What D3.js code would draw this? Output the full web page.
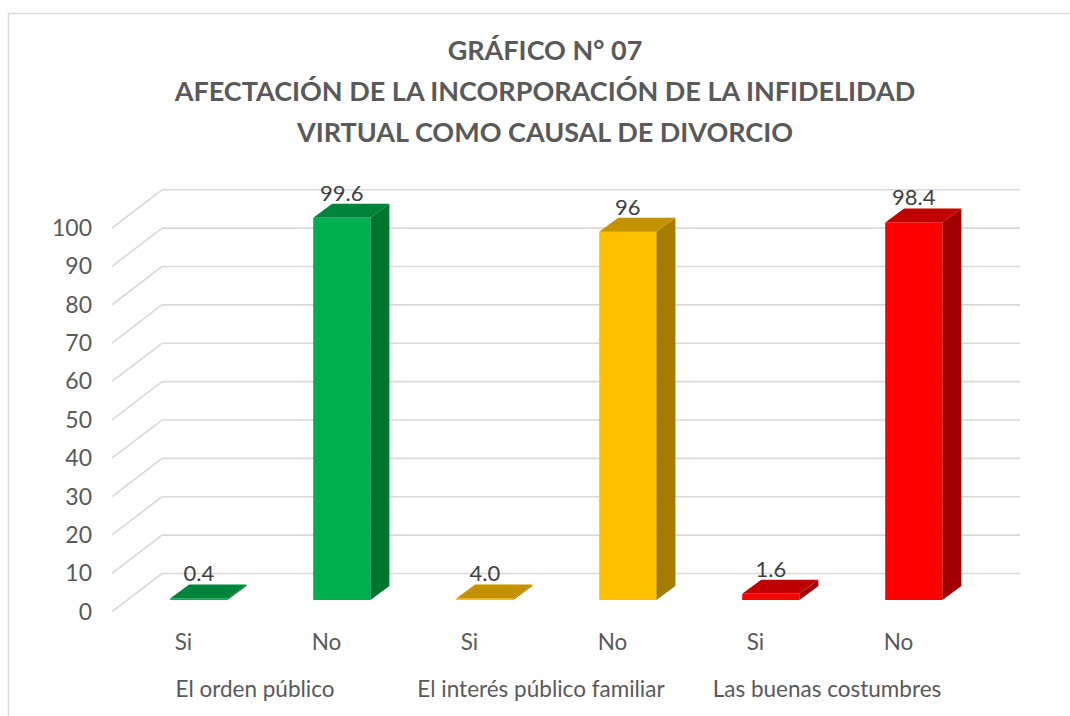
<!DOCTYPE html>
<html>
<head>
<meta charset="utf-8">
<script src="https://cdn.jsdelivr.net/npm/d3@7"></script>
<style>
  body { margin: 0; background: #fff; }
  text { font-family: Lato, "Open Sans", sans-serif; fill: #595959; }
</style>
</head>
<body>
<div id="chart"></div>
<script>
// data
var groups = ["El orden público", "El interés público familiar", "Las buenas costumbres"];
var answers = ["Si", "No"];
// the "4.0" bar is drawn flat in the original, so its height reads about 0.4
var values = [0.4, 99.6, 0.4, 96, 1.6, 98.4];
var valueLabels = ["0.4", "99.6", "4.0", "96", "1.6", "98.4"];
var yTicks = [0, 10, 20, 30, 40, 50, 60, 70, 80, 90, 100];
var frontColors = ["#00b050", "#ffc000", "#ff0000"];
var topColors = ["#00843c", "#c49200", "#c00000"];
var sideColors = ["#00752f", "#a67c00", "#a00000"];
var titleLines = ["GRÁFICO N° 07",
  "AFECTACIÓN DE LA INCORPORACIÓN DE LA INFIDELIDAD",
  "VIRTUAL COMO CAUSAL DE DIVORCIO"];

var W = 1070, H = 716;
var svg = d3.select("#chart").append("svg")
  .attr("width", W).attr("height", H);

// chart area border
svg.append("rect")
  .attr("x", 8.5).attr("y", 13.5)
  .attr("width", 1200).attr("height", 900)
  .attr("fill", "none").attr("stroke", "#d9d9d9").attr("stroke-width", 1.5);

// title
svg.selectAll(".title")
  .data(titleLines)
  .enter().append("text")
  .attr("class", "title")
  .attr("x", 545)
  .attr("y", function(d, i) { return 60 + i * 41; })
  .attr("text-anchor", "middle")
  .style("font-size", "27px")
  .style("font-weight", "bold")
  .text(function(d) { return d; });

// 3d depth of the floor
var depthX = 50, depthY = -38.2;

var y = d3.scaleLinear().domain([0, 100]).range([611.7, 228]);

var keys = d3.range(values.length);
var x = d3.scaleBand()
  .domain(keys)
  .range([112, 970])
  .paddingInner(0.6)
  .paddingOuter(0.3);

var grid = svg.append("g")
  .attr("stroke", "#d9d9d9")
  .attr("stroke-width", 1.6)
  .attr("fill", "none");

// back wall lines
grid.selectAll(".back")
  .data(yTicks)
  .enter().append("line")
  .attr("x1", 112 + depthX).attr("x2", 970 + depthX)
  .attr("y1", function(d) { return y(d) + depthY; })
  .attr("y2", function(d) { return y(d) + depthY; });

// side wall lines
grid.selectAll(".side")
  .data(yTicks)
  .enter().append("line")
  .attr("x1", 112).attr("x2", 112 + depthX)
  .attr("y1", function(d) { return y(d); })
  .attr("y2", function(d) { return y(d) + depthY; });

// y tick labels
svg.selectAll(".ytick")
  .data(yTicks)
  .enter().append("text")
  .attr("x", 92)
  .attr("y", function(d) { return y(d) + 8; })
  .attr("text-anchor", "end")
  .style("font-size", "23px")
  .text(function(d) { return d; });

// bars
var barDepth = 0.306;           // where the front face sits in the floor depth
var bdx = 19, bdy = -14;        // bar's own depth
var bw = x.bandwidth();

var bars = svg.selectAll(".bar")
  .data(keys)
  .enter().append("g");

function bx(i) { return x(i) + depthX * barDepth; }
function byTop(i) { return y(values[i]) + depthY * barDepth; }
function byBot(i) { return y(0) + depthY * barDepth; }
function grp(i) { return Math.floor(i / 2); }

bars.append("rect")
  .attr("x", function(i) { return bx(i); })
  .attr("y", function(i) { return byTop(i); })
  .attr("width", bw)
  .attr("height", function(i) { return byBot(i) - byTop(i); })
  .attr("fill", function(i) { return frontColors[grp(i)]; });

bars.append("path")
  .attr("d", function(i) {
    var x0 = bx(i) + bw, t = byTop(i), b = byBot(i);
    return "M" + x0 + "," + t + "L" + (x0 + bdx) + "," + (t + bdy) +
      "L" + (x0 + bdx) + "," + (b + bdy) + "L" + x0 + "," + b + "Z";
  })
  .attr("fill", function(i) { return sideColors[grp(i)]; });

bars.append("path")
  .attr("d", function(i) {
    var x0 = bx(i), t = byTop(i);
    return "M" + x0 + "," + t + "L" + (x0 + bw) + "," + t +
      "L" + (x0 + bw + bdx) + "," + (t + bdy) + "L" + (x0 + bdx) + "," + (t + bdy) + "Z";
  })
  .attr("fill", function(i) { return topColors[grp(i)]; });

// value labels
bars.append("text")
  .attr("x", function(i) { return bx(i) + bw / 2; })
  .attr("y", function(i) { return byTop(i) + bdy - 3; })
  .attr("text-anchor", "middle")
  .style("font-size", "22px")
  .style("fill", "#404040")
  .text(function(i) { return valueLabels[i]; });

// category labels: Si / No
svg.selectAll(".cat")
  .data(keys)
  .enter().append("text")
  .attr("x", function(i) { return x(i) + bw / 2; })
  .attr("y", 650)
  .attr("text-anchor", "middle")
  .style("font-size", "22.5px")
  .text(function(i) { return answers[i % 2]; });

// group labels
svg.selectAll(".group")
  .data(groups)
  .enter().append("text")
  .attr("x", function(d, g) { return (x(g * 2) + x(g * 2 + 1) + bw) / 2; })
  .attr("y", 697)
  .attr("text-anchor", "middle")
  .style("font-size", "22.5px")
  .text(function(d) { return d; });
</script>
</body>
</html>
